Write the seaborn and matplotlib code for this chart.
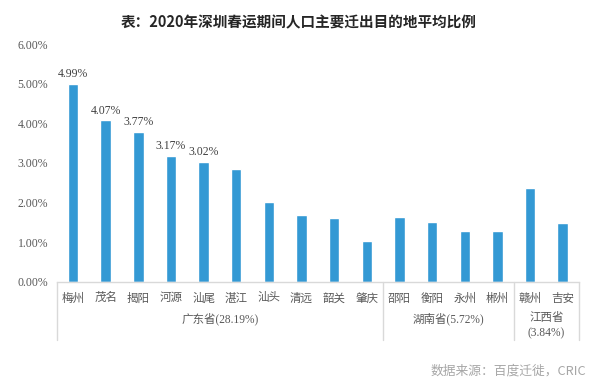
import matplotlib
matplotlib.use("Agg")
import matplotlib.pyplot as plt
import matplotlib.transforms as mtransforms
import seaborn as sns
import pandas as pd

cities = ["梅州", "茂名", "揭阳", "河源", "汕尾", "湛江", "汕头", "清远", "韶关", "肇庆",
          "邵阳", "衡阳", "永州", "郴州", "赣州", "吉安"]
shares = [4.99, 4.07, 3.77, 3.17, 3.02, 2.85, 2.00, 1.68, 1.62, 1.02,
          1.64, 1.50, 1.29, 1.29, 2.37, 1.47]
labelled = 5  # only the first five bars carry value labels
provinces = ["广东省(28.19%)", "湖南省(5.72%)", "江西省\n(3.84%)"]
province_sizes = [10, 4, 2]
yticks = [0, 1, 2, 3, 4, 5, 6]

sns.set_style("white")
serif_cjk = ["Liberation Serif", "Noto Sans CJK SC"]
plt.rcParams["font.family"] = serif_cjk

df = pd.DataFrame({"city": cities, "share": shares})

fig = plt.figure(figsize=(6, 3.86), dpi=100)
ax = fig.add_axes([0.0945, 0.2702, 0.8705, 0.6158])
sns.barplot(data=df, x="city", y="share", color="#3399D4", saturation=1,
            width=0.32, ax=ax)

ax.set_ylim(0, 6)
ax.set_xlim(-0.5, len(cities) - 0.5)
ax.set_yticks(yticks)
ax.set_yticklabels([f"{v:.2f}%" for v in yticks], fontsize=8.5, color="#595959")
ax.set_xticks(range(len(cities)))
ax.set_xticklabels(cities, fontsize=8.3, color="#595959", family="Noto Sans CJK SC")
ax.tick_params(axis="both", length=0)
ax.tick_params(axis="x", pad=7)
ax.tick_params(axis="y", pad=6)
ax.set_xlabel("")
ax.set_ylabel("")
for side in ["left", "right", "top"]:
    ax.spines[side].set_visible(False)
ax.spines["bottom"].set_color("#d9d9d9")
ax.spines["bottom"].set_linewidth(1)

for i in range(labelled):
    ax.text(i, shares[i] + 0.1, f"{shares[i]:.2f}%", ha="center", va="bottom",
            fontsize=8.5, color="#404040")

# province grouping below the category axis
trans = mtransforms.blended_transform_factory(ax.transData, ax.transAxes)
edges = [-0.5]
for n in province_sizes:
    edges.append(edges[-1] + n)
for e in edges:
    ax.plot([e, e], [0, -0.245], transform=trans, color="#d9d9d9", lw=1,
            clip_on=False)
for k, name in enumerate(provinces):
    mid = (edges[k] + edges[k + 1]) / 2
    ax.text(mid, -0.128, name, transform=trans, ha="center", va="top",
            fontsize=8.3, color="#595959", linespacing=1.35)

fig.text(0.497, 0.943, "表：2020年深圳春运期间人口主要迁出目的地平均比例",
         ha="center", va="center", fontsize=10.5, fontweight="bold",
         color="#262626", family=["Noto Sans CJK SC", "DejaVu Sans"])
fig.text(0.977, 0.039, "数据来源：百度迁徙，CRIC", ha="right", va="center",
         fontsize=9.2, color="#a6a6a6", family=["Noto Sans CJK SC", "DejaVu Sans"])

fig.savefig("out.png", dpi=100)
